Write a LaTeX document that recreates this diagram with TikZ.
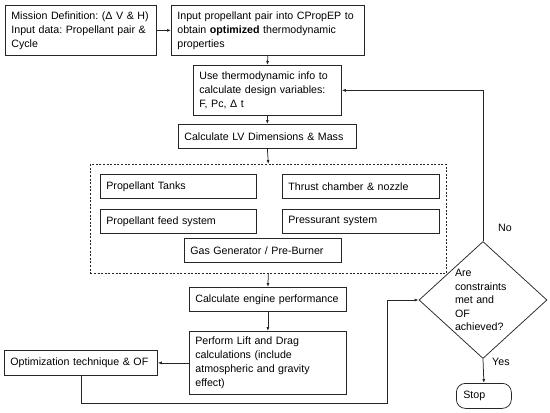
\documentclass[tikz,border=0pt]{standalone}
\usepackage{fontspec}
\setmainfont{Liberation Sans}
\frenchspacing
\usetikzlibrary{arrows.meta,positioning,shapes.geometric}
\definecolor{flowInk}{HTML}{262626}
\tikzset{
  stage/.style={draw=flowInk,line width=.75pt,anchor=north west,align=left,
    inner xsep=6pt,inner ysep=2pt,font=\fontsize{10.65}{14}\selectfont},
  group/.style={draw=flowInk,line width=.7pt,dash pattern=on 2pt off 1.6pt,
    anchor=north west,inner sep=0pt},
  check/.style={diamond,draw=flowInk,line width=.75pt,minimum width=128pt,
    minimum height=100pt,inner sep=0pt,text width=56pt,align=left,
    font=\fontsize{10.65}{13.4}\selectfont},
  tag/.style={font=\fontsize{10.65}{14}\selectfont,inner sep=1pt},
  flow/.style={-{Latex[length=4pt,width=3pt]},line width=.75pt,flowInk}
}
\begin{document}
\begin{tikzpicture}[x=1pt,y=-1pt]
  \useasboundingbox (0,0) rectangle (550,413);
  % top row
  \node[stage,text width=139pt,minimum height=50pt] (mission) at (5,5)
       {Mission Definition: (Δ V \& H)\\Input data: Propellant pair \&\\Cycle};
  \node[stage,text width=181pt,minimum height=50pt] (cprop) at (171,5)
       {Input propellant pair into CPropEP to\\obtain \textbf{optimized} thermodynamic\\properties};
  \node[stage,text width=136pt,minimum height=50pt] (thermo) at (193,65)
       {Use thermodynamic info to\\calculate design variables:\\F, Pc, Δ t};
  \node[stage,text width=166pt,minimum height=24pt] (lvdim) at (178,124)
       {Calculate LV Dimensions \& Mass};

  % engine subsystems
  \node[group,minimum width=356pt,minimum height=109pt] (subsys) at (90,164) {};
  \node[stage,text width=144pt,minimum height=24pt] (tanks) at (100,174) {Propellant Tanks};
  \node[stage,text width=145pt,minimum height=24pt] (thrust) at (282,174) {Thrust chamber \& nozzle};
  \node[stage,text width=144pt,minimum height=24pt] (feed) at (100,209) {Propellant feed system};
  \node[stage,text width=145pt,minimum height=24pt] (press) at (282,209) {Pressurant system};
  \node[stage,text width=145pt,minimum height=24pt] (gasgen) at (184,238) {Gas Generator / Pre-Burner};

  % performance
  \node[stage,text width=145pt,minimum height=24pt] (engperf) at (189,287) {Calculate engine performance};
  \node[stage,text width=145pt,minimum height=63pt] (liftdrag) at (189,331)
       {Perform Lift and Drag\\calculations (include\\atmospheric and gravity\\effect)};
  \node[stage,text width=141pt,minimum height=25pt] (optim) at (4,350) {Optimization technique \& OF};

  % decision
  \node[check] (decide) at (483,300) {Are\\constraints\\met and\\OF\\achieved?};
  \node[stage,rounded corners=9pt,text width=41pt,inner xsep=7pt,minimum height=25pt] (stop) at (456,383) {Stop};
  \node[tag,anchor=west] (lblNo) at (497,228) {No};
  \node[tag,anchor=west] (lblYes) at (491,362) {Yes};
  \coordinate (loopc) at (387,403);

  \foreach \a/\b in {cprop/thermo,thermo/lvdim,lvdim/subsys,subsys/engperf,engperf/liftdrag,decide/stop}
    {\draw[flow] (\a.south) -- (\b.north);}
  \draw[flow] (mission) -- (cprop);
  \draw[flow] (liftdrag.west |- optim.east) -- (optim.east);
  \draw[flow] (optim.south) |- (loopc) |- (decide.west);
  \draw[flow] (decide.north) |- (thermo.east);
\end{tikzpicture}
\end{document}
